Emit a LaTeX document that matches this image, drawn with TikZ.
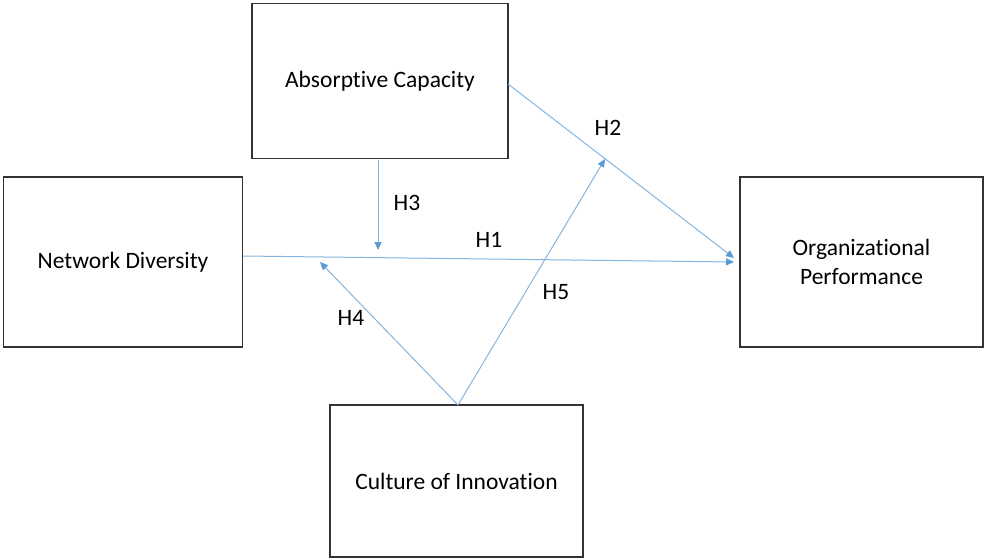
\documentclass[tikz,border=0pt]{standalone}
\usepackage{fontspec}
\setmainfont{Carlito}[RawFeature=-liga]
\usetikzlibrary{arrows.meta}
\definecolor{linkblue}{RGB}{91,155,213}
\begin{document}
\begin{tikzpicture}[x=1pt,y=-1pt,
  construct/.style={draw=black!80,line width=1.3pt,fill=white,inner sep=0pt,align=center,font=\fontsize{23.5}{29}\selectfont},
  link/.style={draw=linkblue!75,line width=1pt,-{Triangle[length=8pt,width=7pt,fill=linkblue,color=linkblue]}},
  hyp/.style={font=\fontsize{23.5}{28}\selectfont,inner sep=0pt}]
\useasboundingbox (0,0) rectangle (985,557);
\node[construct,minimum width=256pt,minimum height=155pt] (ac) at (380,81) {Absorptive Capacity};
\node[construct,minimum width=239pt,minimum height=170pt] (nd) at (123,262) {Network Diversity};
\node[construct,minimum width=243pt,minimum height=170pt] (op) at (861.5,262) {Organizational\\Performance};
\node[construct,minimum width=253pt,minimum height=152pt] (ci) at (456.5,481) {Culture of Innovation};
% anchors where the paths meet
\coordinate (h1s) at (243,256);
\coordinate (h1e) at (734,262);
\coordinate (h2s) at (508,84);
\coordinate (h2e) at (734,258);
\coordinate (h3s) at (378,160);
\coordinate (h3e) at (378,250);
\coordinate (cis) at (458,405);
\coordinate (h4e) at (320,262);
\coordinate (h5e) at (605,159);
\draw[link] (h1s) -- (h1e);
\draw[link] (h2s) -- (h2e);
\draw[link] (h3s) -- (h3e);
\draw[link] (cis) -- (h4e);
\draw[link] (cis) -- (h5e);
\node[hyp] (l1) at (489,240) {H1};
\node[hyp] (l2) at (608,128) {H2};
\node[hyp] (l3) at (407,203) {H3};
\node[hyp] (l4) at (351,318) {H4};
\node[hyp] (l5) at (556,292) {H5};
\end{tikzpicture}
\end{document}
